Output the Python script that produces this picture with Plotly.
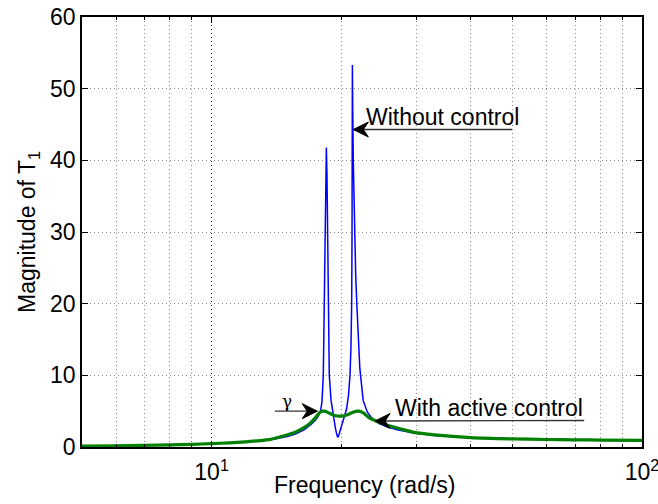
import numpy as np
import plotly.graph_objects as go

# ---- data ----
freq_without = [5, 6, 7, 8, 9, 10, 11, 12, 13, 14, 15, 15.7, 16.4, 17.0, 17.4, 17.7, 17.9,
                18.05, 18.18, 18.27, 18.35, 18.42, 18.48, 18.54, 18.61, 18.67, 18.77, 18.95,
                19.19, 19.4, 19.55, 19.63, 19.72, 19.9, 20.2, 20.59, 20.8, 20.97, 21.08, 21.16,
                21.2, 21.22, 21.24, 21.28, 21.34, 21.5, 21.62, 21.75, 21.9, 22.1, 22.5, 23.0,
                23.6, 24.5, 25.5, 27, 29.5, 33, 40, 50, 60, 70, 80, 100]
mag_without = [0.1, 0.15, 0.21, 0.28, 0.36, 0.45, 0.56, 0.7, 0.88, 1.1, 1.45, 1.85, 2.4, 3.1, 3.7, 4.3, 4.9,
               6.3, 10, 20, 30, 38, 41.8, 38, 30, 20, 10, 6.5,
               4.2, 2.6, 1.7, 1.35, 1.5, 2.3, 3.5, 5.3, 7.2, 10, 14, 20,
               30, 40, 53.3, 47, 40, 30, 24, 20, 15, 11, 6.5, 4.9,
               4.0, 3.25, 2.85, 2.4, 1.95, 1.6, 1.28, 1.1, 1.02, 0.97, 0.94, 0.9]

freq_with = [5, 6, 7, 8, 9, 10, 11, 12, 13, 13.6, 14.6, 15.7, 16.5, 17.0, 17.5, 17.9, 18.3, 18.8,
             19.3, 20.0, 20.7, 21.3, 22.0, 22.6, 23.2, 24.2, 25.0, 27.4, 29.5, 33, 40, 50, 60, 70, 80, 100]
mag_with = [0.12, 0.17, 0.23, 0.3, 0.38, 0.47, 0.58, 0.72, 0.9, 1.02, 1.5, 2.1, 2.8, 3.4, 4.2, 4.9, 5.0, 4.7,
            4.4, 4.3, 4.5, 4.85, 5.0, 4.7, 4.1, 3.6, 3.25, 2.55, 2.05, 1.7, 1.32, 1.13, 1.05, 1.0, 0.97, 0.92]

x_major = [10, 100]
x_major_text = ["10<sup>1</sup>", "10<sup>2</sup>"]
x_minor = [6, 7, 8, 9, 20, 30, 40, 50, 60, 70, 80, 90]
y_ticks = [0, 10, 20, 30, 40, 50, 60]

FONT = "Liberation Sans, Arial, sans-serif"
FS = 23

fig = go.Figure()
fig.add_trace(go.Scatter(x=freq_without, y=mag_without, mode="lines",
                         line=dict(color="#0000ff", width=1.5), showlegend=False))
fig.add_trace(go.Scatter(x=freq_with, y=mag_with, mode="lines",
                         line=dict(color="#008000", width=3.2, shape="spline", smoothing=0.8),
                         showlegend=False))

shapes = []
def arrow(x_head, y_head, x_tail, y_tail, left=True):
    # shaft
    shapes.append(dict(type="line", xref="x", yref="y", x0=x_tail, y0=y_tail, x1=x_head, y1=y_head,
                       line=dict(color="#333333", width=1.3), layer="above"))
    # head (pixel-sized, anchored at the tip)
    s = 1 if left else -1
    path = f"M 0 0 L {15*s} 7.5 L {10*s} 0 L {15*s} -7.5 Z"
    shapes.append(dict(type="path", xref="x", yref="y", xsizemode="pixel", ysizemode="pixel",
                       xanchor=x_head, yanchor=y_head, path=path,
                       fillcolor="#000000", line=dict(color="#000000", width=1), layer="above"))

arrow(21.35, 44.3, 49.9, 44.3, left=True)
arrow(23.98, 3.63, 73.4, 3.7, left=True)
arrow(17.6, 5.0, 14.03, 5.0, left=False)

L = np.log10
ann = []
ann.append(dict(x=L(34.45), y=46.0, xref="x", yref="y", text="Without control", showarrow=False,
                font=dict(family=FONT, size=FS, color="#000")))
ann.append(dict(x=L(44.1), y=5.5, xref="x", yref="y", text="With active control", showarrow=False,
                font=dict(family=FONT, size=FS, color="#000")))
ann.append(dict(x=L(14.94), y=6.4, xref="x", yref="y", text="γ", showarrow=False,
                font=dict(family="DejaVu Serif, serif", size=17, color="#000")))
# x-axis title
ann.append(dict(x=0.506, y=-0.089, xref="paper", yref="paper", text="Frequency (rad/s)",
                showarrow=False, xanchor="center", yanchor="middle",
                font=dict(family=FONT, size=FS, color="#000")))

DOT = "1px,3px"
fig.update_layout(
    width=658, height=504,
    margin=dict(l=82, r=16, t=17, b=57),
    paper_bgcolor="white", plot_bgcolor="white",
    font=dict(family=FONT, size=FS, color="#000"),
    annotations=ann, shapes=shapes,
    xaxis=dict(type="log", range=[L(5), L(100)], automargin=False,
               tickmode="array", tickvals=x_major, ticktext=x_major_text,
               ticklabeloverflow="allow", ticklabelstandoff=4,
               showgrid=True, gridcolor="#000000", griddash=DOT, gridwidth=1,
               ticks="inside", ticklen=6, tickcolor="#000",
               showline=True, linecolor="#000", linewidth=1.5, mirror="ticks",
               zeroline=False,
               minor=dict(tickvals=x_minor, showgrid=True, gridcolor="#888888",
                          griddash=DOT, gridwidth=1, ticks="inside", ticklen=3,
                          tickcolor="#000")),
    yaxis=dict(range=[0, 60], tickmode="array", tickvals=y_ticks, automargin=False,
               showgrid=True, gridcolor="#888888", griddash=DOT, gridwidth=1,
               ticks="inside", ticklen=6, tickcolor="#000",
               showline=True, linecolor="#000", linewidth=1.5, mirror="ticks",
               zeroline=False,
               title=dict(text="Magnitude of T<sub>1</sub>", standoff=8,
                          font=dict(family=FONT, size=FS))),
)

fig.write_html("out.html")
